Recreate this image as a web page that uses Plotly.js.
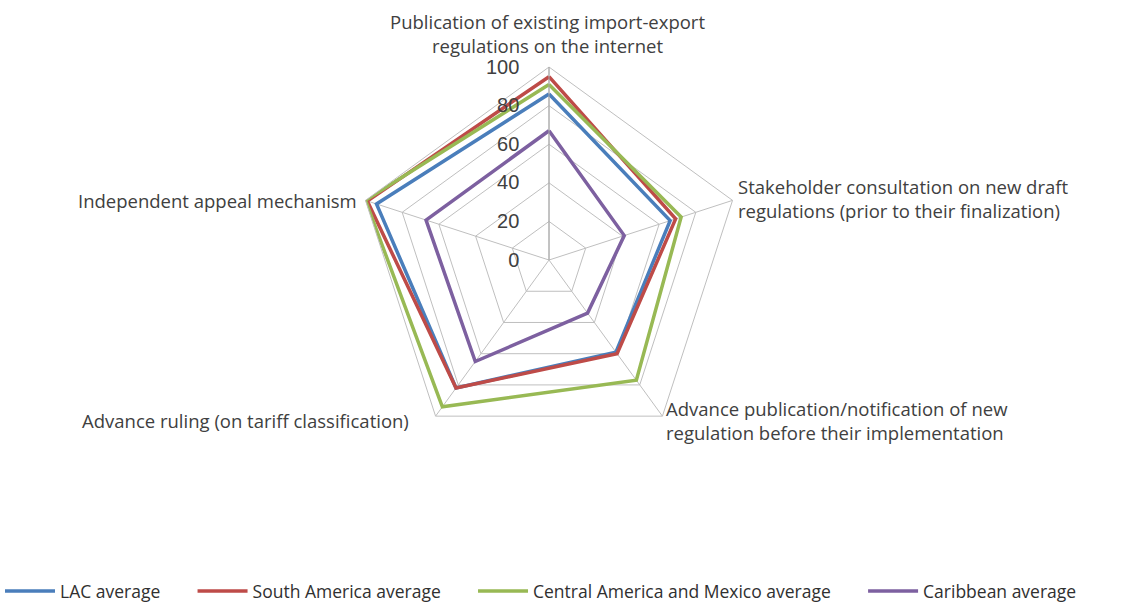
<!DOCTYPE html>
<html>
<head>
<meta charset="utf-8">
<script src="https://cdn.plot.ly/plotly-3.0.1.min.js"></script>
<style>html,body{margin:0;padding:0;background:#fff;}#chart{width:1125px;height:604px;}</style>
</head>
<body>
<div id="chart"></div>
<script>
const categories = [
  "Publication of existing import-export<br>regulations on the internet",
  "Stakeholder consultation on new draft<br>regulations (prior to their finalization)",
  "Advance publication/notification of new<br>regulation before their implementation",
  "Advance ruling (on tariff classification)",
  "Independent appeal mechanism"
];
const seriesNames = ["LAC average", "South America average", "Central America and Mexico average", "Caribbean average"];
const lacValues = [86, 66, 59, 82, 94];
const southAmericaValues = [95, 69, 60, 82, 99];
const centralAmericaValues = [91, 72, 77, 94, 100];
const caribbeanValues = [67, 41, 34, 65, 67];
const radialTicks = [0, 20, 40, 60, 80, 100];
const colors = ["#4A7EBB", "#BE4B48", "#98B954", "#7D60A0"];

const legendPad = "\u00a0".repeat(6);
const allValues = [lacValues, southAmericaValues, centralAmericaValues, caribbeanValues];
const traces = allValues.map((vals, i) => ({
  type: "scatterpolar",
  mode: "lines",
  name: seriesNames[i] + (i < seriesNames.length - 1 ? legendPad : ""),
  r: vals.concat([vals[0]]),
  theta: categories.concat([categories[0]]),
  line: {color: colors[i], width: 3.5},
  hoverinfo: "skip"
}));

// category label placement (paper fractions) around the pentagon
const labelPos = [
  {x: 547/1125, y: 1 - 33/604, xanchor: "center", align: "center"},
  {x: 736/1125, y: 1 - 199/604, xanchor: "left", align: "left"},
  {x: 664/1125, y: 1 - 421/604, xanchor: "left", align: "left"},
  {x: 411/1125, y: 1 - 420/604, xanchor: "right", align: "right"},
  {x: 359/1125, y: 1 - 200/604, xanchor: "right", align: "right"}
];
const annotations = categories.map((c, i) => Object.assign({
  text: c, xref: "paper", yref: "paper", yanchor: "middle", showarrow: false,
  font: {size: 18.5, color: "#404040"}
}, labelPos[i]));

const layout = {
  width: 1125, height: 604,
  margin: {l: 0, r: 0, t: 0, b: 0, autoexpand: false},
  paper_bgcolor: "#fff",
  font: {family: "Open Sans, sans-serif", color: "#404040"},
  showlegend: true,
  legend: {orientation: "h", x: 0.0, xanchor: "left", y: 0.0215, yanchor: "middle",
           font: {size: 17.5, color: "#303030"}, itemwidth: 50, traceorder: "normal"},
  annotations: annotations,
  polar: {
    domain: {x: [0.3155, 0.6605], y: [0.2500, 0.8890]},
    gridshape: "linear",
    bgcolor: "#fff",
    angularaxis: {
      rotation: 90, direction: "clockwise",
      showline: true, linecolor: "#bfbfbf", linewidth: 1,
      gridcolor: "#bfbfbf", gridwidth: 1,
      ticks: "", showticklabels: false
    },
    radialaxis: {
      range: [0, 100], tickvals: radialTicks, ticktext: radialTicks.map(v => v + "\u00a0\u00a0\u00a0\u00a0"),
      angle: 90, tickangle: 90, side: "counterclockwise",
      showline: true, linecolor: "#a6a6a6", linewidth: 1,
      gridcolor: "#bfbfbf", gridwidth: 1,
      ticks: "", tickfont: {size: 20, color: "#404040", family: "Liberation Sans, sans-serif"}
    }
  }
};
Plotly.newPlot("chart", traces, layout, {displayModeBar: false, staticPlot: true});
</script>
</body>
</html>
